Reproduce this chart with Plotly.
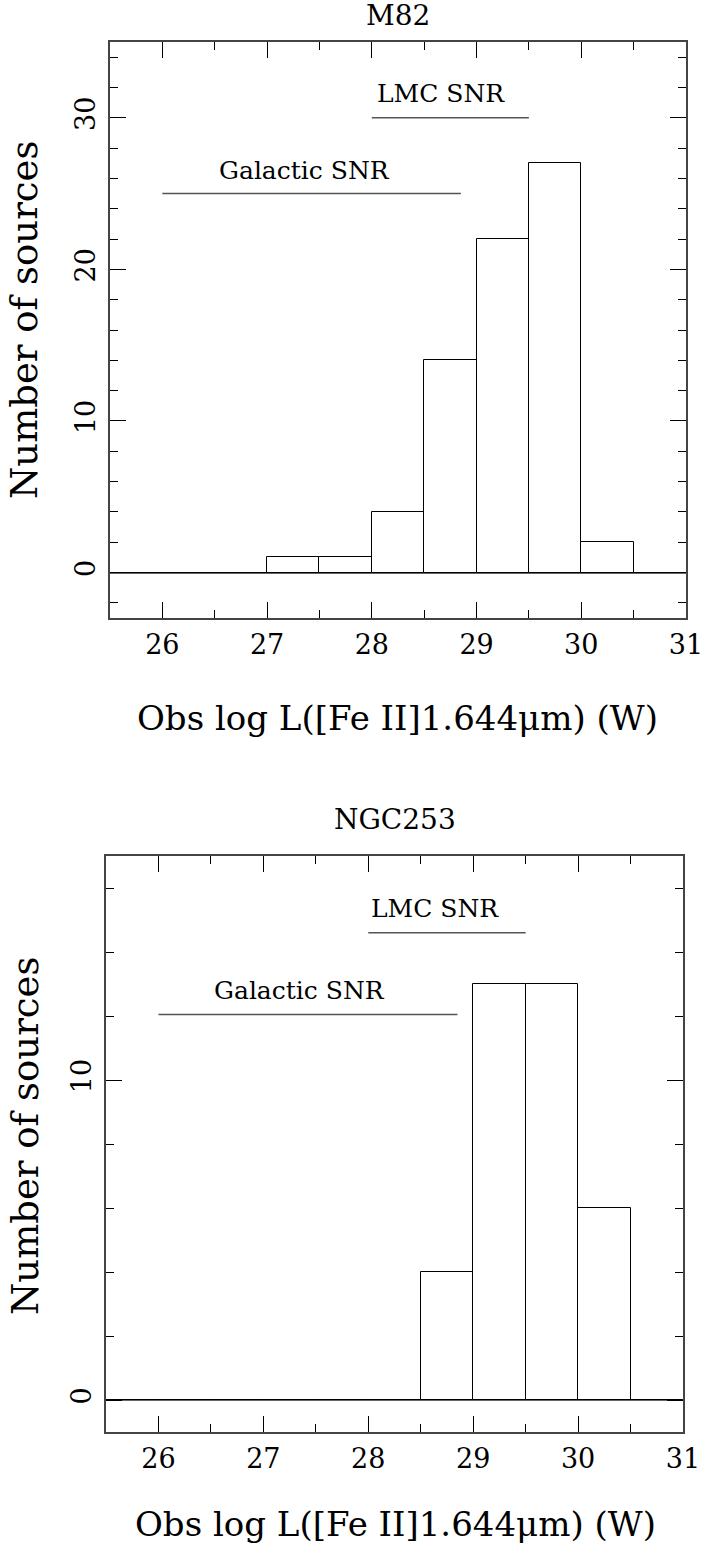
import plotly.graph_objects as go

# ---- data ----
bin_left = [25.5, 26.0, 26.5, 27.0, 27.5, 28.0, 28.5, 29.0, 29.5, 30.0, 30.5]
bin_width = 0.5
m82_counts = [0, 0, 0, 1, 1, 4, 14, 22, 27, 2, 0]
ngc253_counts = [0, 0, 0, 0, 0, 0, 4, 13, 13, 6, 0]

x_ticks = [26, 27, 28, 29, 30, 31]
m82_yticks = [0, 10, 20, 30]
ngc253_yticks = [0, 10]

# reference ranges (log L) for SNR populations
lmc_range = [28.0, 29.5]
gal_range = [26.0, 28.85]
m82_lmc_y, m82_gal_y = 30, 25
ngc_lmc_y, ngc_gal_y = 14.6, 12.05

FONT = "DejaVu Serif"
FRAME = "#444444"
W, H = 706, 1555


def px(y):
    return 1 - y / H


centers = [b + bin_width / 2 for b in bin_left]

fig = go.Figure()

fig.add_trace(go.Bar(x=centers, y=m82_counts, width=bin_width,
                     marker=dict(color="white", line=dict(color="black", width=1)),
                     xaxis="x", yaxis="y", showlegend=False))
fig.add_trace(go.Bar(x=centers, y=ngc253_counts, width=bin_width,
                     marker=dict(color="white", line=dict(color="black", width=1)),
                     xaxis="x2", yaxis="y2", showlegend=False))


def xaxis_cfg(domain, anchor):
    return dict(domain=domain, anchor=anchor, range=[25.5, 31], automargin=False,
                tickmode="array", tickvals=x_ticks, ticktext=[str(t) for t in x_ticks],
                ticks="inside", ticklen=16, tickwidth=1, tickcolor="black",
                minor=dict(dtick=0.5, tick0=25.5, ticks="inside", ticklen=8,
                           tickwidth=1, tickcolor="black"),
                showline=True, linecolor=FRAME, linewidth=1.5, mirror="allticks",
                showgrid=False, zeroline=False,
                tickfont=dict(family=FONT, size=27, color="black"),
                ticklabelstandoff=2)


def yaxis_cfg(domain, anchor, rng, ticks):
    return dict(domain=domain, anchor=anchor, range=rng, automargin=False,
                tickmode="array", tickvals=ticks, ticktext=[str(t) for t in ticks],
                ticks="inside", ticklen=16, tickwidth=1, tickcolor="black",
                minor=dict(dtick=2, tick0=0, ticks="inside", ticklen=8,
                           tickwidth=1, tickcolor="black"),
                showline=True, linecolor=FRAME, linewidth=1.5, mirror="allticks",
                showgrid=False, zeroline=True, zerolinecolor="#666666", zerolinewidth=2,
                tickangle=-90,
                tickfont=dict(family=FONT, size=27, color="black"),
                ticklabelstandoff=2)


fig.update_layout(
    width=W, height=H, autosize=False,
    margin=dict(l=0, r=0, t=0, b=0, autoexpand=False),
    paper_bgcolor="white", plot_bgcolor="white",
    bargap=0,
    xaxis=xaxis_cfg([110 / W, 686 / W], "y"),
    yaxis=yaxis_cfg([px(618), px(42)], "x", [-3, 35], m82_yticks),
    xaxis2=xaxis_cfg([106 / W, 683 / W], "y2"),
    yaxis2=yaxis_cfg([px(1432), px(856)], "x2", [-1, 17], ngc253_yticks),
)

line_style = dict(color="#555555", width=1.5)
# SNR range lines
for xr, yr, yv in [("x", "y", m82_lmc_y), ("x2", "y2", ngc_lmc_y)]:
    fig.add_shape(type="line", xref=xr, yref=yr, x0=lmc_range[0], x1=lmc_range[1],
                  y0=yv, y1=yv, line=line_style)
for xr, yr, yv in [("x", "y", m82_gal_y), ("x2", "y2", ngc_gal_y)]:
    fig.add_shape(type="line", xref=xr, yref=yr, x0=gal_range[0], x1=gal_range[1],
                  y0=yv, y1=yv, line=line_style)

ann_font = dict(family=FONT, size=25, color="black")
fig.add_annotation(xref="x", yref="y", x=28.66, y=m82_lmc_y + 1.6, text="LMC SNR",
                   showarrow=False, font=ann_font)
fig.add_annotation(xref="x", yref="y", x=27.36, y=m82_gal_y + 1.5, text="Galactic SNR",
                   showarrow=False, font=ann_font)
fig.add_annotation(xref="x2", yref="y2", x=28.64, y=ngc_lmc_y + 0.75, text="LMC SNR",
                   showarrow=False, font=ann_font)
fig.add_annotation(xref="x2", yref="y2", x=27.34, y=ngc_gal_y + 0.75, text="Galactic SNR",
                   showarrow=False, font=ann_font)

title_font = dict(family=FONT, size=28, color="black")
fig.add_annotation(xref="paper", yref="paper", x=398 / W, y=px(15), text="M82",
                   showarrow=False, font=title_font, yanchor="middle")
fig.add_annotation(xref="paper", yref="paper", x=395 / W, y=px(820), text="NGC253",
                   showarrow=False, font=title_font, yanchor="middle")

xtitle = "Obs log L([Fe II]1.644\u03bcm) (W)"
xt_font = dict(family=FONT, size=34, color="black")
yt_font = dict(family=FONT, size=37, color="black")
fig.add_annotation(xref="paper", yref="paper", x=397 / W, y=px(718), text=xtitle,
                   showarrow=False, font=xt_font, yanchor="middle")
fig.add_annotation(xref="paper", yref="paper", x=395 / W, y=px(1524), text=xtitle,
                   showarrow=False, font=xt_font, yanchor="middle")
fig.add_annotation(xref="paper", yref="paper", x=25 / W, y=px(320),
                   text="Number of sources", textangle=-90,
                   showarrow=False, font=yt_font, xanchor="center", yanchor="middle")
fig.add_annotation(xref="paper", yref="paper", x=25 / W, y=px(1136),
                   text="Number of sources", textangle=-90,
                   showarrow=False, font=yt_font, xanchor="center", yanchor="middle")

fig.write_html("out.html")
